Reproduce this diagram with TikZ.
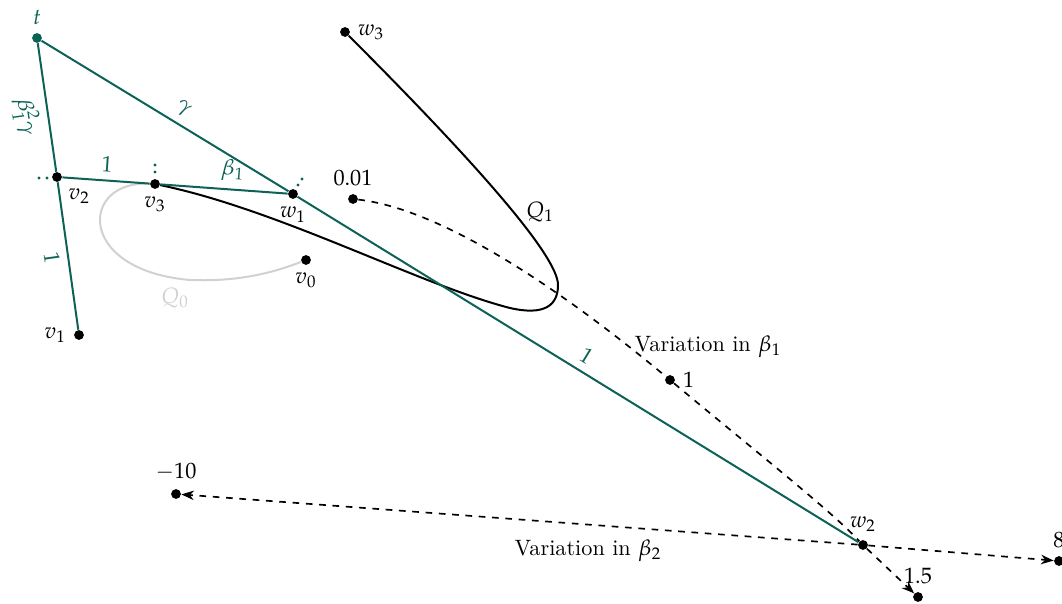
\documentclass[tikz,border=0pt]{standalone}
\usepackage{amsmath,amssymb}
\usepackage{mathpazo}
\usepackage{xcolor}
\usetikzlibrary{arrows.meta,positioning}
\definecolor{pine}{RGB}{12,98,86}

\begin{document}
\begin{tikzpicture}[x=0.45pt, y=-0.45pt,
  dot/.style={circle, fill, inner sep=0pt, minimum size=4.4pt},
  gdot/.style={dot, fill=pine},
  edge/.style={pine, line width=0.9pt},
  curve/.style={line width=0.9pt},
  qzero/.style={black!18, line width=0.9pt},
  vary/.style={dashed, line width=0.75pt, -{Stealth[length=2mm]}}]
\useasboundingbox (0,0) rectangle (1062,604);
% vertices of the triangle
\node[gdot, label={[pine]above:$t$}] (t) at (37,38) {};
\node[dot, label={below right:$v_2$}] (v2) at (57,177) {};
\node[dot, label={below:$v_3$}] (v3) at (155,184) {};
\node[dot, label={below:$w_1$}] (w1) at (293,194) {};
\node[dot, label={left:$v_1$}] (v1) at (79,335) {};
\node[dot, label={below:$v_0$}] (v0) at (306,260) {};
\node[dot, label={right:$w_3$}] (w3) at (345,32) {};
\node[dot, label={above:$w_2$}] (w2) at (863,545) {};
% points along the variations
\node[dot, label={above:$0.01$}] (p001) at (353,199) {};
\node[dot, label={right:$1$}] (p1) at (670,380) {};
\node[dot, label={above:$1.5$}] (p15) at (918,597) {};
\node[dot, label={above:$8$}] (p8) at (1059,561) {};
\node[dot, label={above:$-10$}] (pm10) at (176,494) {};
\node (varA) at (708,347) {Variation in $\beta_1$};
\node (varB) at (588,551) {Variation in $\beta_2$};
\node (q1) at (540,212) {$Q_1$};
\node[text=black!18] (q0) at (175,298) {$Q_0$};

\draw[qzero] (v3) .. controls (80,180) and (75,270) .. (190,280) .. controls (240,282) and (275,272) .. (v0);
\draw[curve] (v3) .. controls (280,210) and (420,285) .. (510,308) .. controls (545,316) and (558,305) .. (558,285) .. controls (558,258) and (487,174) .. (w3);

\draw[edge] (t) -- node[below, sloped, pos=0.55] {$\beta_1^2\gamma$} (v2) -- node[below, sloped] {$1$} (v1);
\draw[edge] (t) -- node[above, sloped, pos=0.54] {$\gamma$} (w1) -- node[above, sloped] {$1$} (w2);
\draw[edge] (v2) -- node[above, sloped] {$1$} (v3) -- node[above, sloped, pos=0.56] {$\beta_1$} (w1);
% continuation dots
\foreach \dx/\dy in {-10/1,-18/1} \fill[pine] (v2) ++(\dx,\dy) circle (0.7pt);
\foreach \dx/\dy in {0/-12,0/-19} \fill[pine] (v3) ++(\dx,\dy) circle (0.7pt);
\foreach \dx/\dy in {5/-9,9/-15} \fill[pine] (w1) ++(\dx,\dy) circle (0.7pt);

\draw[vary] (p001) .. controls (450,210) and (580,305) .. (p1) .. controls (760,455) and (830,510) .. (w2) -- (p15);
\draw[vary] (w2) -- (p8);
\draw[vary] (w2) -- (pm10);
\end{tikzpicture}
\end{document}
